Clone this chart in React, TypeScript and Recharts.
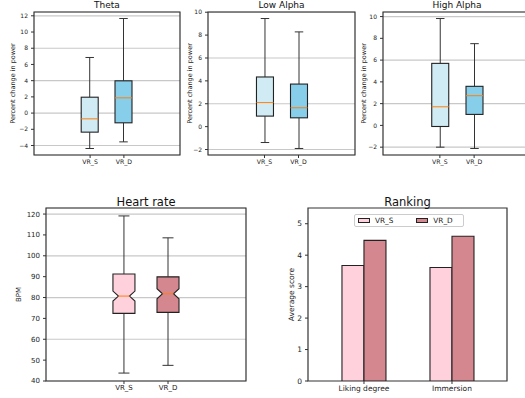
import React from "react";
import { ComposedChart, BarChart, Bar, XAxis, YAxis, CartesianGrid, Legend, ReferenceArea } from "recharts";

const FONT = "DejaVu Sans";

const groups = ["VR_S", "VR_D"];
const groupPositions = [1, 2];

// Theta
const thetaWhiskerLow = [-4.37, -3.55];
const thetaQ1 = [-2.35, -1.2];
const thetaMedian = [-0.71, 1.88];
const thetaQ3 = [1.96, 3.98];
const thetaWhiskerHigh = [6.86, 11.67];
const thetaTicks = [-4, -2, 0, 2, 4, 6, 8, 10, 12];

// Low Alpha
const lowAlphaWhiskerLow = [-1.39, -1.91];
const lowAlphaQ1 = [0.92, 0.77];
const lowAlphaMedian = [2.1, 1.65];
const lowAlphaQ3 = [4.34, 3.72];
const lowAlphaWhiskerHigh = [9.45, 8.28];
const lowAlphaTicks = [-2, 0, 2, 4, 6, 8, 10];

// High Alpha
const highAlphaWhiskerLow = [-2.0, -2.12];
const highAlphaQ1 = [-0.1, 1.01];
const highAlphaMedian = [1.71, 2.73];
const highAlphaQ3 = [5.7, 3.59];
const highAlphaWhiskerHigh = [9.82, 7.51];
const highAlphaTicks = [-2, 0, 2, 4, 6, 8, 10];

// Heart rate
const heartWhiskerLow = [43.8, 47.5];
const heartQ1 = [72.4, 72.9];
const heartMedian = [80.7, 81.8];
const heartQ3 = [91.3, 89.9];
const heartWhiskerHigh = [119.1, 108.6];
const heartNotchLow = [78.3, 79.4];
const heartNotchHigh = [83.1, 84.2];
const heartTicks = [40, 50, 60, 70, 80, 90, 100, 110, 120];

// Ranking
const rankCategories = ["Liking degree", "Immersion"];
const rankPositions = [0, 1];
const rankVRS = [3.67, 3.61];
const rankVRD = [4.47, 4.6];
const rankTicks = [0, 1, 2, 3, 4, 5];

const BLUE_FILLS = ["#d1ebf4", "#87ceeb"];
const PINK_FILLS = ["#ffd1dc", "#d4878f"];
const SPINE = "#333333";
const EDGE = "#222222";
const MEDIAN = "#ff7f0e";
const GRID = "#c8c8c8";

const fmt = (v: number) => (v < 0 ? "\u2212" + Math.abs(v) : String(v));

function BoxShape(props: any) {
  const { x, y, width, height, payload, notched } = props;
  if (payload == null) return null;
  const top = Math.min(y, y + height);
  const h = Math.abs(height);
  const { low, high, q1, med, q3, notchLo, notchHi, fill } = payload;
  const py = (v: number) => top + ((high - v) / (high - low)) * h;
  const cx = x + width / 2;
  const half = width / 2;
  const capHalf = width / 4;
  const L = cx - half;
  const R = cx + half;
  let box;
  if (notched) {
    const pts = [
      [L, py(q1)],
      [R, py(q1)],
      [R, py(notchLo)],
      [cx + capHalf, py(med)],
      [R, py(notchHi)],
      [R, py(q3)],
      [L, py(q3)],
      [L, py(notchHi)],
      [cx - capHalf, py(med)],
      [L, py(notchLo)],
    ]
      .map((p) => p.join(","))
      .join(" ");
    box = <polygon points={pts} fill={fill} stroke={EDGE} strokeWidth={1.1} />;
  } else {
    box = (
      <rect x={L} y={py(q3)} width={width} height={py(q1) - py(q3)} fill={fill} stroke={EDGE} strokeWidth={1.1} />
    );
  }
  const mL = notched ? cx - capHalf : L;
  const mR = notched ? cx + capHalf : R;
  return (
    <g>
      <line x1={cx} x2={cx} y1={py(q3)} y2={py(high)} stroke={SPINE} strokeWidth={1} />
      <line x1={cx} x2={cx} y1={py(q1)} y2={py(low)} stroke={SPINE} strokeWidth={1} />
      <line x1={cx - capHalf} x2={cx + capHalf} y1={py(high)} y2={py(high)} stroke={SPINE} strokeWidth={1} />
      <line x1={cx - capHalf} x2={cx + capHalf} y1={py(low)} y2={py(low)} stroke={SPINE} strokeWidth={1} />
      {box}
      <line x1={mL} x2={mR} y1={py(med)} y2={py(med)} stroke={MEDIAN} strokeWidth={1} />
    </g>
  );
}

type PanelProps = {
  title: string;
  ylabel: string;
  lows: number[];
  q1s: number[];
  meds: number[];
  q3s: number[];
  highs: number[];
  notchLo?: number[];
  notchHi?: number[];
  fills: string[];
  domain: [number, number];
  xDomain: [number, number];
  ticks: number[];
  width: number;
  height: number;
  margin: { top: number; right: number; bottom: number; left: number };
  yAxisWidth: number;
  xAxisHeight: number;
  boxWidth: number;
  tickFont: number;
  xTickFont: number;
  labelFont: number;
  titleFont: number;
  titleOffset: number;
  ylabelOffset: number;
  xTickMargin: number;
  notched?: boolean;
};

function BoxPanel(p: PanelProps) {
  const rows = groups.map((g, i) => ({
    name: g,
    pos: groupPositions[i],
    range: [p.lows[i], p.highs[i]],
    low: p.lows[i],
    q1: p.q1s[i],
    med: p.meds[i],
    q3: p.q3s[i],
    high: p.highs[i],
    notchLo: p.notchLo ? p.notchLo[i] : undefined,
    notchHi: p.notchHi ? p.notchHi[i] : undefined,
    fill: p.fills[i],
  }));
  return (
    <ComposedChart width={p.width} height={p.height} data={rows} margin={p.margin}>
      <CartesianGrid vertical={false} stroke={GRID} strokeWidth={1.2} />
      <XAxis
        dataKey="pos"
        type="number"
        domain={p.xDomain}
        allowDataOverflow
        ticks={groupPositions}
        tickFormatter={(v: number) => groups[groupPositions.indexOf(v)] ?? ""}
        height={p.xAxisHeight}
        tickSize={3}
        tickMargin={p.xTickMargin}
        interval={0}
        tick={{ fontSize: p.xTickFont, fill: "#222", fontFamily: FONT }}
        axisLine={false}
        tickLine={{ stroke: SPINE }}
      />
      <YAxis
        type="number"
        domain={p.domain}
        ticks={p.ticks}
        allowDataOverflow
        width={p.yAxisWidth}
        tickSize={3}
        tickMargin={3}
        tickFormatter={fmt}
        tick={{ fontSize: p.tickFont, fill: "#222", fontFamily: FONT }}
        axisLine={false}
        tickLine={{ stroke: SPINE }}
        label={{
          value: p.ylabel,
          angle: -90,
          position: "insideLeft",
          offset: p.ylabelOffset,
          textAnchor: "middle",
          fontSize: p.labelFont,
          fill: "#222",
          fontFamily: FONT,
        }}
      />
      <Bar
        dataKey="range"
        barSize={p.boxWidth}
        isAnimationActive={false}
        shape={(sp: any) => <BoxShape {...sp} notched={p.notched} />}
      />
      <ReferenceArea
        y1={p.domain[0]}
        y2={p.domain[1]}
        ifOverflow="visible"
        fill="none"
        fillOpacity={0}
        stroke={SPINE}
        strokeWidth={1.2}
        label={{ value: p.title, position: "top", offset: p.titleOffset, fontSize: p.titleFont, fill: "#111", fontFamily: FONT }}
      />
    </ComposedChart>
  );
}

const legendColors: Record<string, string> = { VR_S: PINK_FILLS[0], VR_D: PINK_FILLS[1] };

const renderRankLegend = (props: any) => {
  const payload = [...(props.payload || [])].sort(
    (a: any, b: any) => groups.indexOf(String(a.value)) - groups.indexOf(String(b.value))
  );
  return (
    <div
      style={{
        display: "flex",
        alignItems: "center",
        height: 13,
        boxSizing: "border-box",
        border: "1px solid #cccccc",
        borderRadius: 2,
        background: "rgba(255,255,255,0.8)",
        paddingLeft: 3,
        fontFamily: FONT,
        fontSize: 7.3,
        color: "#222",
      }}
    >
      {payload.map((entry: any, i: number) => (
        <div key={String(entry.value)} style={{ display: "flex", alignItems: "center", marginLeft: i === 0 ? 0 : 23 }}>
          <span
            style={{
              display: "inline-block",
              width: 12,
              height: 5,
              boxSizing: "border-box",
              background: legendColors[String(entry.value)],
              border: "1px solid #222",
              marginRight: 5,
            }}
          />
          <span style={{ lineHeight: "11px" }}>{entry.value}</span>
        </div>
      ))}
    </div>
  );
};

function RankingPanel() {
  const rows = rankCategories.map((c, i) => ({ name: c, pos: rankPositions[i], VR_S: rankVRS[i], VR_D: rankVRD[i] }));
  const yDomain: [number, number] = [0, 5.5];
  return (
    <BarChart width={265} height={213} data={rows} margin={{ top: 23, right: 18, bottom: 0, left: 0 }} barGap={0}>
      <XAxis
        dataKey="pos"
        type="number"
        domain={[-0.636, 1.625]}
        allowDataOverflow
        ticks={rankPositions}
        tickFormatter={(v: number) => rankCategories[rankPositions.indexOf(v)] ?? ""}
        height={17}
        tickSize={3}
        tickMargin={1.5}
        interval={0}
        tick={{ fontSize: 7.5, fill: "#222", fontFamily: FONT }}
        axisLine={false}
        tickLine={{ stroke: SPINE }}
      />
      <YAxis
        type="number"
        domain={yDomain}
        ticks={rankTicks}
        allowDataOverflow
        width={48}
        tickSize={3}
        tickMargin={3}
        tick={{ fontSize: 7.5, fill: "#222", fontFamily: FONT }}
        axisLine={false}
        tickLine={{ stroke: SPINE }}
        label={{
          value: "Average score",
          angle: -90,
          position: "insideLeft",
          offset: 31.7,
          textAnchor: "middle",
          fontSize: 7.5,
          fill: "#222",
          fontFamily: FONT,
        }}
      />
      <Legend
        layout="horizontal"
        verticalAlign="middle"
        align="center"
        wrapperStyle={{ top: 29, left: 94, width: 110, height: 13 }}
        content={renderRankLegend}
      />
      <Bar dataKey="VR_S" name="VR_S" fill={PINK_FILLS[0]} stroke={EDGE} strokeWidth={1.1} barSize={22} isAnimationActive={false} />
      <Bar dataKey="VR_D" name="VR_D" fill={PINK_FILLS[1]} stroke={EDGE} strokeWidth={1.1} barSize={22} isAnimationActive={false} />
      <ReferenceArea
        y1={yDomain[0]}
        y2={yDomain[1]}
        ifOverflow="visible"
        fill="none"
        fillOpacity={0}
        stroke={SPINE}
        strokeWidth={1.2}
        label={{ value: "Ranking", position: "top", offset: 2.3, fontSize: 11.5, fill: "#111", fontFamily: FONT }}
      />
    </BarChart>
  );
}

const topCommon = {
  height: 175,
  xAxisHeight: 20,
  boxWidth: 17,
  tickFont: 6,
  xTickFont: 6.2,
  labelFont: 6.5,
  titleFont: 9,
  titleOffset: 3.7,
  xTickMargin: 2,
  fills: BLUE_FILLS,
  xDomain: [-0.66, 3.66] as [number, number],
};

export default function App() {
  return (
    <div
      style={{
        position: "absolute",
        left: 0,
        top: 0,
        width: 525,
        height: 398,
        overflow: "hidden",
        background: "#ffffff",
        fontFamily: FONT,
      }}
    >
      <div style={{ position: "absolute", left: 0, top: 0 }}>
        <BoxPanel
          {...topCommon}
          title="Theta"
          ylabel="Percent change in power"
          lows={thetaWhiskerLow}
          q1s={thetaQ1}
          meds={thetaMedian}
          q3s={thetaQ3}
          highs={thetaWhiskerHigh}
          domain={[-5.17, 12.47]}
          ticks={thetaTicks}
          width={190}
          margin={{ top: 12, right: 10, bottom: 0, left: 0 }}
          yAxisWidth={34}
          ylabelOffset={13}
        />
      </div>
      <div style={{ position: "absolute", left: 180, top: 0 }}>
        <BoxPanel
          {...topCommon}
          title="Low Alpha"
          ylabel="Percent change in power"
          lows={lowAlphaWhiskerLow}
          q1s={lowAlphaQ1}
          meds={lowAlphaMedian}
          q3s={lowAlphaQ3}
          highs={lowAlphaWhiskerHigh}
          domain={[-2.48, 10.02]}
          ticks={lowAlphaTicks}
          width={185}
          margin={{ top: 12, right: 10, bottom: 0, left: 0 }}
          yAxisWidth={28}
          ylabelOffset={9.3}
        />
      </div>
      <div style={{ position: "absolute", left: 355, top: 0 }}>
        <BoxPanel
          {...topCommon}
          title="High Alpha"
          ylabel="Percent change in power"
          lows={highAlphaWhiskerLow}
          q1s={highAlphaQ1}
          meds={highAlphaMedian}
          q3s={highAlphaQ3}
          highs={highAlphaWhiskerHigh}
          domain={[-2.72, 10.42]}
          ticks={highAlphaTicks}
          width={190}
          margin={{ top: 12, right: 14, bottom: 0, left: 0 }}
          yAxisWidth={28}
          ylabelOffset={8.3}
        />
      </div>
      <div style={{ position: "absolute", left: 0, top: 185 }}>
        <BoxPanel
          title="Heart rate"
          ylabel="BPM"
          lows={heartWhiskerLow}
          q1s={heartQ1}
          meds={heartMedian}
          q3s={heartQ3}
          highs={heartWhiskerHigh}
          notchLo={heartNotchLow}
          notchHi={heartNotchHigh}
          notched
          fills={PINK_FILLS}
          domain={[40, 122.9]}
          xDomain={[-0.77, 3.77]}
          ticks={heartTicks}
          width={260}
          height={213}
          margin={{ top: 23, right: 14, bottom: 0, left: 0 }}
          yAxisWidth={46}
          xAxisHeight={17}
          boxWidth={22}
          tickFont={7}
          xTickFont={7}
          labelFont={7}
          titleFont={11.5}
          titleOffset={2.3}
          ylabelOffset={19}
          xTickMargin={1.5}
        />
      </div>
      <div style={{ position: "absolute", left: 260, top: 185 }}>
        <RankingPanel />
      </div>
    </div>
  );
}
